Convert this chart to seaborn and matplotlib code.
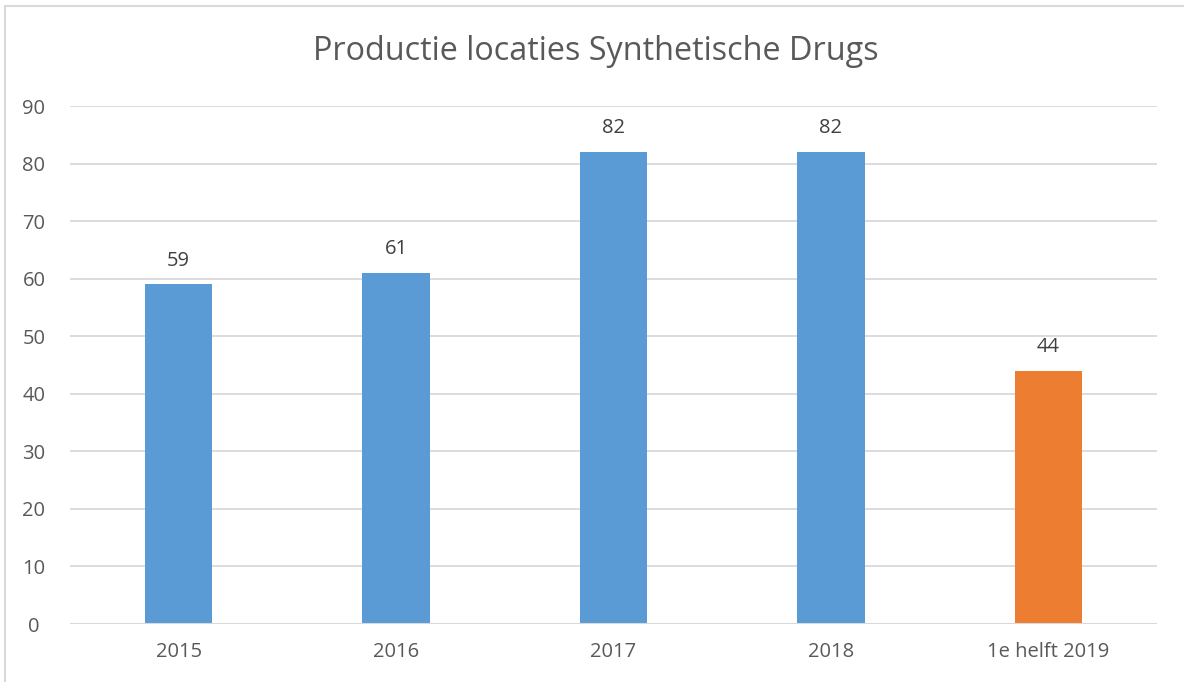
import matplotlib
matplotlib.use("Agg")
import matplotlib.pyplot as plt
import seaborn as sns
import pandas as pd
from matplotlib.patches import Rectangle

categories = ["2015", "2016", "2017", "2018", "1e helft 2019"]
values = [59, 61, 82, 82, 44]
colors = ["#5B9BD5", "#5B9BD5", "#5B9BD5", "#5B9BD5", "#ED7D31"]
title = "Productie locaties Synthetische Drugs"

sns.set_theme(style="white")
plt.rcParams['font.family'] = ['Open Sans', 'DejaVu Sans']

fig = plt.figure(figsize=(11.84, 6.82), dpi=100)
ax = fig.add_axes([70/1184, 1-624/682, (1157-70)/1184, (624-106)/682])

df = pd.DataFrame({"cat": categories, "val": values})
sns.barplot(data=df, x="cat", y="val", hue="cat", palette=colors, legend=False,
            width=0.31, ax=ax, saturation=1, zorder=3, linewidth=0, edgecolor="none")

ax.set_ylim(0, 90)
ax.set_yticks(range(0, 91, 10))
ax.set_xlim(-0.5, len(categories) - 0.5)
ax.yaxis.grid(True, color="#d9d9d9", linewidth=1.3, zorder=0)
ax.set_axisbelow(True)
for s in ax.spines.values():
    s.set_visible(False)
ax.axhline(0, color="#d9d9d9", linewidth=1.5, zorder=4)
ax.set_xlabel("")
ax.set_ylabel("")
ax.tick_params(axis="both", length=0, labelsize=14.5, colors="#595959")
ax.tick_params(axis="y", pad=26)
ax.tick_params(axis="x", pad=13)
for lab in ax.get_yticklabels():
    lab.set_horizontalalignment("center")

for c in ax.containers:
    ax.bar_label(c, padding=10, fontsize=14.5, color="#404040")

fig.text(596/1184, 1-52/682, title, ha="center", va="center", fontsize=23.3, color="#595959")

fig.patches.append(Rectangle((5/1184, -0.1), 1.2, 1-6/682 + 0.1, transform=fig.transFigure,
                             fill=False, edgecolor="#d9d9d9", linewidth=1.5))

fig.savefig("out.png", dpi=100)
